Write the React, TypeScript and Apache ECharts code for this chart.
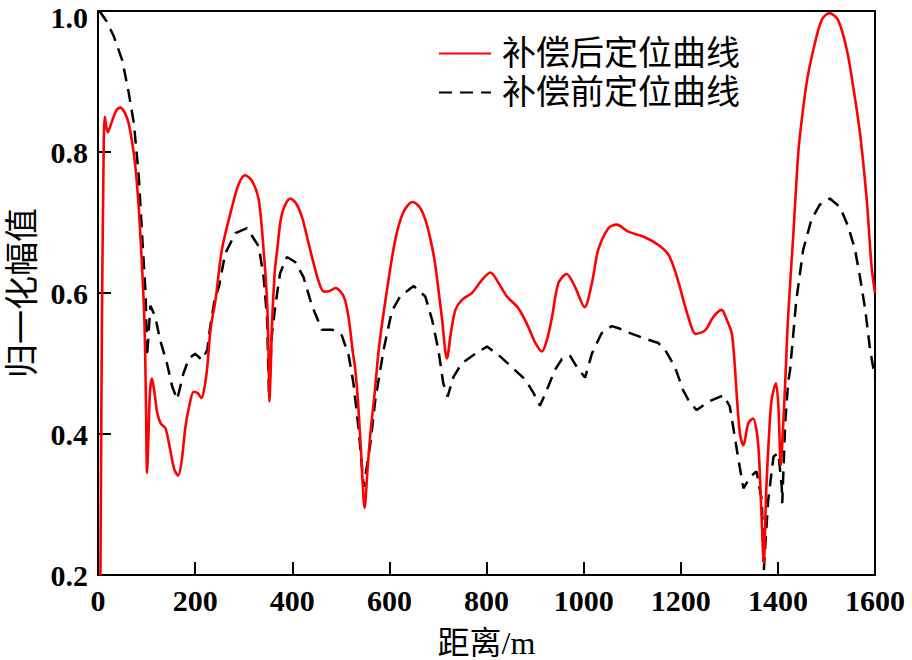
import React, { useEffect, useRef } from "react";
import * as echarts from "echarts";

const seriesNames = ["补偿后定位曲线", "补偿前定位曲线"];
const xTicks = [0, 200, 400, 600, 800, 1000, 1200, 1400, 1600];
const yTicks = [0.2, 0.4, 0.6, 0.8, 1.0];

const afterComp: [number, number][] = [
  [5, 0.2], [8, 0.55], [11, 0.76], [14, 0.85], [20, 0.828], [28, 0.842], [37, 0.858], [46, 0.863],
  [55, 0.856], [63, 0.841], [70, 0.815], [77, 0.779], [83, 0.73], [87, 0.685], [94, 0.59], [97, 0.52],
  [99, 0.43], [101, 0.345], [104, 0.4], [107, 0.46], [111, 0.479], [116, 0.46], [122, 0.43], [129, 0.415],
  [139, 0.408], [148, 0.38], [157, 0.35], [165, 0.341], [172, 0.36], [180, 0.41], [188, 0.44], [197, 0.46],
  [205, 0.458], [213, 0.451], [219, 0.465], [225, 0.495], [232, 0.55], [242, 0.59], [255, 0.661], [276, 0.722],
  [290, 0.755], [303, 0.767], [318, 0.758], [331, 0.732], [341, 0.661], [348, 0.59], [351, 0.52], [353, 0.446],
  [356, 0.5], [358, 0.55], [364, 0.63], [369, 0.661], [379, 0.713], [396, 0.734], [408, 0.727], [420, 0.708],
  [432, 0.675], [444, 0.642], [455, 0.615], [465, 0.602], [477, 0.603], [489, 0.607], [506, 0.595], [516, 0.565],
  [524, 0.52], [530, 0.49], [536, 0.44], [542, 0.37], [549, 0.295], [555, 0.35], [561, 0.401], [570, 0.46],
  [578, 0.519], [592, 0.59], [612, 0.675], [629, 0.715], [648, 0.729], [662, 0.722], [674, 0.704], [685, 0.675],
  [694, 0.642], [701, 0.605], [708, 0.566], [718.5, 0.507], [727, 0.545], [736, 0.576], [749, 0.59], [770, 0.6],
  [790, 0.618], [808, 0.629], [825, 0.614], [842, 0.595], [866, 0.578], [886, 0.552], [900, 0.53], [914, 0.517],
  [925, 0.535], [935, 0.566], [948, 0.614], [965, 0.627], [982, 0.609], [1002, 0.58], [1017, 0.614], [1030, 0.661],
  [1051, 0.692], [1068, 0.697], [1092, 0.687], [1126, 0.679], [1154, 0.668], [1175, 0.654], [1192, 0.623], [1209, 0.581],
  [1222, 0.552], [1230, 0.542], [1250, 0.547], [1267, 0.566], [1284, 0.576], [1296, 0.56], [1305, 0.543], [1311, 0.5],
  [1316, 0.448], [1322, 0.4], [1329, 0.384], [1339, 0.415], [1349, 0.422], [1356, 0.405], [1361, 0.37], [1366, 0.29],
  [1371, 0.217], [1376, 0.32], [1382, 0.401], [1387, 0.448], [1396, 0.472], [1401, 0.44], [1406, 0.356], [1410, 0.4],
  [1415, 0.472], [1421, 0.566], [1432, 0.685], [1441, 0.79], [1446, 0.827], [1459, 0.897], [1473, 0.945], [1490, 0.987],
  [1506, 0.997], [1524, 0.987], [1542, 0.945], [1555, 0.893], [1569, 0.827], [1583, 0.732], [1593, 0.637], [1600, 0.6],
];

const beforeComp: [number, number][] = [
  [3, 1.0], [18, 0.985], [32, 0.965], [50, 0.93], [63, 0.885], [74, 0.84], [84, 0.765], [91, 0.68], [98, 0.6],
  [101, 0.51], [108, 0.582], [118, 0.566], [128, 0.533], [142, 0.5], [153, 0.467], [163, 0.449], [176, 0.486],
  [187, 0.507], [200, 0.514], [214, 0.505], [225, 0.519], [231, 0.552], [240, 0.59], [249, 0.609], [262, 0.656],
  [283, 0.685], [307, 0.692], [331, 0.666], [341, 0.623], [348, 0.566], [352, 0.46], [358, 0.54], [365, 0.581],
  [375, 0.628], [389, 0.651], [406, 0.644], [423, 0.623], [441, 0.581], [461, 0.548], [482, 0.548], [502, 0.54],
  [516, 0.512], [526, 0.472], [537, 0.405], [547, 0.325], [561, 0.387], [571, 0.448], [588, 0.519], [605, 0.574],
  [622, 0.595], [650, 0.61], [674, 0.595], [688, 0.562], [701, 0.519], [711, 0.472], [720, 0.453], [732, 0.481],
  [749, 0.5], [777, 0.514], [801, 0.524], [825, 0.512], [852, 0.495], [880, 0.477], [897, 0.458], [910, 0.44],
  [924, 0.462], [941, 0.491], [955, 0.506], [972, 0.511], [986, 0.495], [1003, 0.48], [1017, 0.514], [1037, 0.543],
  [1058, 0.553], [1072, 0.55], [1092, 0.544], [1123, 0.536], [1154, 0.529], [1168, 0.519], [1188, 0.495], [1205, 0.462],
  [1219, 0.444], [1233, 0.434], [1257, 0.446], [1288, 0.455], [1301, 0.439], [1308, 0.41], [1319, 0.363], [1329, 0.323],
  [1343, 0.339], [1356, 0.347], [1367, 0.306], [1371, 0.207], [1380, 0.306], [1391, 0.368], [1401, 0.373], [1408, 0.325],
  [1409, 0.302], [1415, 0.415], [1421, 0.472], [1425, 0.49], [1438, 0.59], [1452, 0.661], [1469, 0.704], [1486, 0.725],
  [1507, 0.734], [1528, 0.722], [1545, 0.694], [1559, 0.661], [1569, 0.623], [1580, 0.576], [1590, 0.519], [1600, 0.48],
];

const NUM_FONT = "Liberation Serif, Times New Roman, serif";
const CJK_FONT = "Liberation Serif, Noto Sans CJK SC, serif";

export default function App() {
  const ref = useRef<HTMLDivElement>(null);
  useEffect(() => {
    if (!ref.current) return;
    const chart = echarts.init(ref.current, undefined, { renderer: "svg" });
    const yMax = yTicks[yTicks.length - 1];
    chart.setOption({
      animation: false,
      backgroundColor: "#fff",
      grid: {
        left: 98, right: 37, top: 11, bottom: 85,
        containLabel: false,
        outerBoundsMode: "none",
        show: true, borderColor: "#000", borderWidth: 2, backgroundColor: "transparent",
      },
      legend: {
        orient: "vertical",
        left: 433,
        top: 29,
        itemWidth: 52,
        itemHeight: 14,
        itemGap: 0,
        data: seriesNames,
        itemStyle: { opacity: 0 },
        textStyle: { fontSize: 34, lineHeight: 39, color: "#000", fontFamily: CJK_FONT, padding: [0, 0, 0, 6] },
      },
      xAxis: {
        type: "value",
        min: xTicks[0],
        max: xTicks[xTicks.length - 1],
        interval: 200,
        name: "距离/m",
        nameLocation: "middle",
        nameGap: 52,
        nameTextStyle: { fontSize: 32, lineHeight: 32, color: "#000", fontFamily: CJK_FONT },
        axisLine: { lineStyle: { color: "#000", width: 2 } },
        axisTick: { inside: true, length: 13, lineStyle: { color: "#000", width: 2 } },
        axisLabel: {
          fontSize: 30,
          fontWeight: "bold",
          color: "#000",
          fontFamily: NUM_FONT,
          margin: 10,
          formatter: (v: number) => String(v),
        },
        splitLine: { show: false },
      },
      yAxis: {
        type: "value",
        min: yTicks[0],
        max: yMax,
        interval: 0.2,
        name: "归一化幅值",
        nameLocation: "middle",
        nameGap: 57,
        nameTextStyle: { fontSize: 34, color: "#000", fontFamily: CJK_FONT },
        axisLine: { lineStyle: { color: "#000", width: 2 } },
        axisTick: { inside: true, length: 13, lineStyle: { color: "#000", width: 2 } },
        axisLabel: {
          fontSize: 30,
          fontWeight: "bold",
          color: "#000",
          fontFamily: NUM_FONT,
          margin: 10,
          formatter: (v: number) => (Math.abs(v - yMax) < 1e-9 ? "{top|" + v.toFixed(1) + "}" : v.toFixed(1)),
          rich: {
            top: {
              fontSize: 30,
              fontWeight: "bold",
              color: "#000",
              fontFamily: NUM_FONT,
              lineHeight: 12,
              padding: [12, 0, 0, 0],
            },
          },
        },
        splitLine: { show: false },
      },
      series: [
        {
          name: seriesNames[0],
          type: "line",
          data: afterComp,
          symbol: "none",
          smooth: 0.3,
          lineStyle: { color: "#ff0000", width: 2.6 },
          itemStyle: { color: "#ff0000" },
          z: 3,
        },
        {
          name: seriesNames[1],
          type: "line",
          data: beforeComp,
          symbol: "none",
          smooth: false,
          lineStyle: { color: "#000", width: 2.5, type: [13, 8] },
          itemStyle: { color: "#000" },
          z: 2,
        },
      ],
    });
    return () => chart.dispose();
  }, []);
  return <div ref={ref} style={{ width: 912, height: 660, position: "absolute", left: 0, top: 0 }} />;
}
